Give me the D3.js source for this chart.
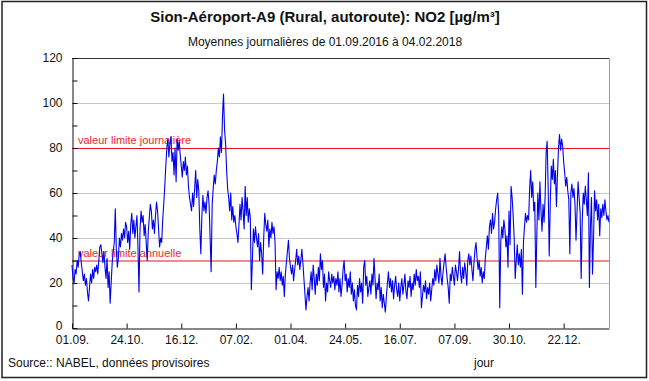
<!DOCTYPE html>
<html><head><meta charset="utf-8">
<script src="https://cdn.jsdelivr.net/npm/d3@7"></script>
<style>body{margin:0;background:#fff}svg{display:block}</style>
</head><body>
<svg id="c" width="649" height="381"></svg>
<script>
const titleText = "Sion-Aéroport-A9 (Rural, autoroute): NO2 [µg/m³]";
const subtitleText = "Moyennes journalières de 01.09.2016 à 04.02.2018";
const sourceText = "Source:: NABEL, données provisoires";
const xAxisTitle = "jour";
const startDate = "2016-09-01";
const endDate = "2018-02-04";
const no2 = [
28,22,20,26,24,30,27,33,34,29,
25,21,24,19,22,16,12,18,24,20,
26,22,27,25,28,24,30,36,37,33,
29,34,27,22,31,18,25,11,20,29,
34,38,53,35,27,31,40,36,42,39,
44,40,47,45,38,43,35,46,51,42,
48,40,45,50,36,16,44,52,47,50,
41,46,38,30,43,49,55,52,44,48,
42,50,56,52,44,36,40,38,48,55,
63,72,80,84,76,82,85,74,78,68,
80,65,84,79,83,77,72,67,74,70,
76,68,72,63,58,55,52,60,54,62,
70,58,66,61,44,33,50,59,52,56,
51,58,61,55,40,25,55,62,68,64,
70,74,80,76,85,78,94,104,88,82,
70,62,58,52,60,48,54,47,50,45,
42,38,46,55,48,58,52,44,63,50,
58,47,53,49,17,30,44,38,45,40,
36,42,30,38,33,24,40,51,46,43,
48,36,44,40,47,42,45,38,17,25,
22,27,21,25,19,23,14,24,29,34,
39,31,27,24,28,21,26,30,35,28,
32,26,30,35,29,22,15,8,14,18,
12,20,25,17,28,22,15,24,19,27,
21,33,26,30,18,24,12,20,16,25,
21,18,24,20,23,17,22,19,25,16,
22,14,19,26,30,21,24,16,22,18,
25,15,20,12,17,10,8,19,14,22,
16,20,11,27,30,19,23,14,18,21,
15,24,19,31,22,13,20,17,24,12,
18,9,15,11,7,14,20,25,18,22,
16,21,13,19,23,17,14,20,12,18,
22,15,19,24,16,13,21,18,23,14,
20,17,24,19,26,21,23,18,25,9,
14,19,16,21,13,18,15,20,12,17,
22,19,26,21,28,24,20,31,23,19,
25,29,33,27,22,18,11,24,21,27,
23,19,28,25,21,26,34,24,20,27,
22,29,25,19,30,33,28,32,26,21,
29,35,38,31,26,30,23,27,20,25,
22,31,36,41,35,45,48,42,51,44,
47,53,57,60,50,9,38,45,40,48,
44,36,41,27,52,37,63,58,50,40,
22,30,37,28,33,27,35,15,38,45,
51,47,50,48,62,70,58,65,52,56,
18,42,60,48,65,52,43,55,47,58,
78,83,62,32,55,72,66,75,64,70,
54,68,80,86,79,84,81,74,69,63,
67,61,57,33,60,64,58,62,55,39,
52,65,58,51,22,47,60,55,63,57,
50,69,18,45,58,24,40,61,52,57,
48,55,41,53,49,55,50,57,52,48,
50,47
];
const yTicks = [0,20,40,60,80,100,120];
const yMinorTicks = [10,30,50,70,90,110];
const gridValues = [20,40,60,100];
const xTickDates = ["2016-09-01","2016-10-24","2016-12-16","2017-02-07","2017-04-01","2017-05-24","2017-07-16","2017-09-07","2017-10-30","2017-12-22"];
const xTickLabels = ["01.09.","24.10.","16.12.","07.02.","01.04.","24.05.","16.07.","07.09.","30.10.","22.12."];
const limitValues = [80,30];
const limitLabels = ["valeur limite journalière","valeur limite annuelle"];

const FONT = "'Liberation Sans', Arial, sans-serif";
const svg = d3.select("#c");
const W = 649, H = 381;
const m = {left:72, right:609, top:58, bottom:328};

const parse = d3.utcParse("%Y-%m-%d");
const t0 = parse(startDate);
const data = no2.map((v,i)=>({date:d3.utcDay.offset(t0,i), value:v}));

const x = d3.scaleUtc().domain([t0, parse(endDate)]).range([m.left, m.right]);
const y = d3.scaleLinear().domain([0,120]).range([m.bottom, m.top]);

svg.append("rect").attr("x",0).attr("y",0).attr("width",W).attr("height",H).attr("fill","#fff");
svg.append("rect").attr("x",2).attr("y",1.5).attr("width",644.5).attr("height",376)
  .attr("fill","none").attr("stroke","#222").attr("stroke-width",1.5);

// titles
svg.append("text").attr("x",325).attr("y",22).attr("text-anchor","middle")
  .attr("font-family",FONT).attr("font-weight","bold").attr("font-size",15).attr("fill","#111").text(titleText);
svg.append("text").attr("x",325).attr("y",46).attr("text-anchor","middle")
  .attr("font-family",FONT).attr("font-size",12).attr("fill","#111").text(subtitleText);

// grid
svg.append("g").selectAll("line").data(gridValues).join("line")
  .attr("x1",m.left).attr("x2",m.right).attr("y1",d=>y(d)+0.5).attr("y2",d=>y(d)+0.5)
  .attr("stroke","#c8c8c8").attr("stroke-width",1);

// frame top/right
svg.append("line").attr("x1",m.left).attr("x2",m.right).attr("y1",m.top+0.5).attr("y2",m.top+0.5).attr("stroke","#333");
svg.append("line").attr("x1",m.right+0.5).attr("x2",m.right+0.5).attr("y1",m.top).attr("y2",m.bottom).attr("stroke","#999");

// limit lines
svg.append("g").selectAll("line").data(limitValues).join("line")
  .attr("x1",m.left).attr("x2",m.right).attr("y1",d=>y(d)+0.5).attr("y2",d=>y(d)+0.5)
  .attr("stroke","#e8141b").attr("stroke-width",1.2);
svg.append("g").selectAll("text").data(limitValues).join("text")
  .attr("x",m.left+6).attr("y",d=>y(d)-4)
  .attr("font-family",FONT).attr("font-size",11).attr("fill","#f0282d")
  .text((d,i)=>limitLabels[i]);

// y axis
const yAxis = d3.axisLeft(y).tickValues(yTicks).tickSize(-5).tickSizeOuter(0).tickPadding(10).tickFormat(d3.format("d"));
const gy = svg.append("g").attr("transform",`translate(${m.left+0.5},0)`).call(yAxis);
gy.selectAll("text").attr("font-family",FONT).attr("font-size",12).attr("fill","#111");
gy.selectAll("text").filter(d=>d===0).attr("dy","0.1em");
gy.selectAll("line,path").attr("stroke","#111");
const gy2 = svg.append("g").attr("transform",`translate(${m.left+0.5},0)`)
  .call(d3.axisLeft(y).tickValues(yMinorTicks).tickSize(-5).tickSizeOuter(0).tickFormat(""));
gy2.select("path").remove();
gy2.selectAll("line").attr("stroke","#111");

// x axis
const xAxis = d3.axisBottom(x).tickValues(xTickDates.map(parse)).tickSize(-5).tickSizeOuter(0).tickPadding(7)
  .tickFormat((d,i)=>xTickLabels[i]);
const gx = svg.append("g").attr("transform",`translate(0,${m.bottom+0.5})`).call(xAxis);
gx.selectAll("text").attr("font-family",FONT).attr("font-size",12).attr("fill","#111");
gx.selectAll("line,path").attr("stroke","#111");

// data line
const line = d3.line().x(d=>x(d.date)).y(d=>y(d.value));
svg.append("path").datum(data).attr("d",line).attr("fill","none")
  .attr("stroke","#0000f0").attr("stroke-width",1.1).attr("stroke-linejoin","round");

// footer
svg.append("text").attr("x",8).attr("y",367).attr("font-family",FONT).attr("font-size",12).attr("fill","#111").text(sourceText);
svg.append("text").attr("x",484).attr("y",367).attr("text-anchor","middle").attr("font-family",FONT).attr("font-size",12).attr("fill","#111").text(xAxisTitle);
</script>
</body></html>
